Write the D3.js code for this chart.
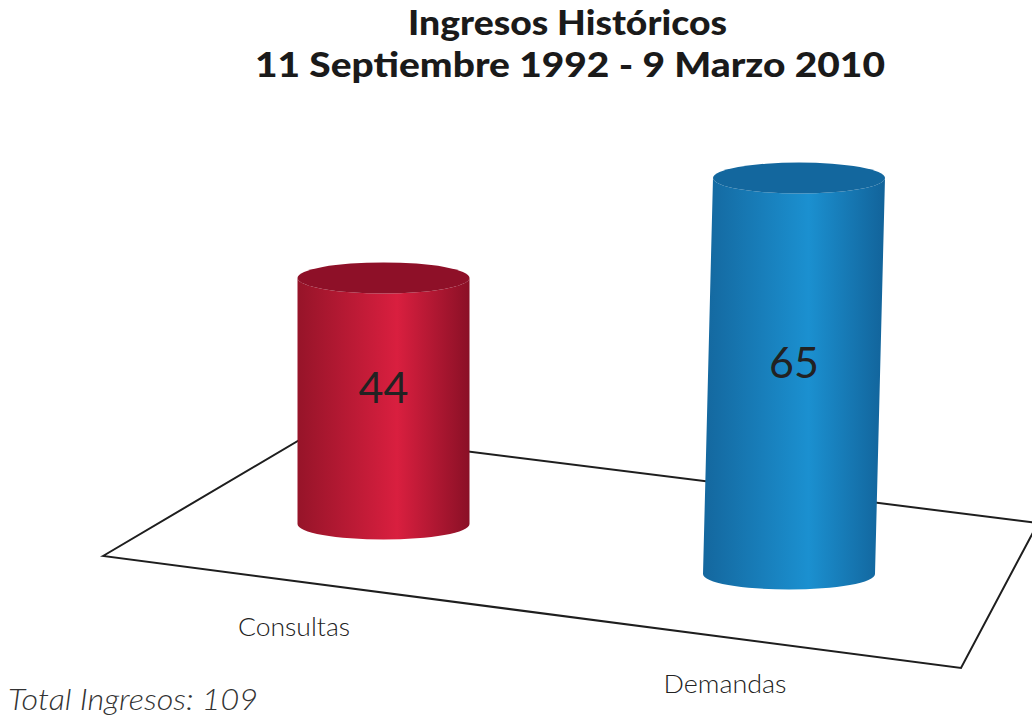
<!DOCTYPE html>
<html>
<head>
<meta charset="utf-8">
<script src="https://cdn.jsdelivr.net/npm/d3@7"></script>
<style>
  html, body { margin: 0; padding: 0; background: #ffffff; }
  svg { display: block; }
</style>
</head>
<body>
<svg id="chart" width="1032" height="725"></svg>
<script>
// ---- data ----
const categories = ["Consultas", "Demandas"];
const values = [44, 65];
const titleLines = ["Ingresos Históricos", "11 Septiembre 1992 - 9 Marzo 2010"];
const totalLabel = "Total Ingresos: 109";

// ---- layout ----
const W = 1032, H = 725;
const svg = d3.select("#chart");
const defs = svg.append("defs");

// scales
const yScale = d3.scaleLinear().domain([0, 65]).range([0, 396]);
const baseX = d3.scalePoint().domain(categories).range([383.5, 789]);
const baseY = d3.scalePoint().domain(categories).range([524, 574]);
const depthK = d3.scalePoint().domain(categories).range([0.918, 1]);
const tilt = d3.scalePoint().domain(categories).range([0, 10]);
const labelX = d3.scalePoint().domain(categories).range([294, 725]);
const labelY = d3.scalePoint().domain(categories).range([636, 693]);
const labelW = [112, 123];

const palettes = [
  { edge: "#961429", mid: "#d91f3f", edge2: "#8a1026", top: "#8e1028" },
  { edge: "#14679e", mid: "#1b90d0", edge2: "#12639a", top: "#13679e" }
];

palettes.forEach((p, i) => {
  const g = defs.append("linearGradient").attr("id", "grad" + i)
    .attr("x1", "0%").attr("x2", "100%").attr("y1", "0%").attr("y2", "0%");
  g.append("stop").attr("offset", "0%").attr("stop-color", p.edge);
  g.append("stop").attr("offset", "58%").attr("stop-color", p.mid);
  g.append("stop").attr("offset", "100%").attr("stop-color", p.edge2);
});

// floor (perspective plane)
const floor = [[103, 556], [313, 432], [1038, 523], [961, 668]];
svg.append("path")
  .attr("d", d3.line()(floor) + "Z")
  .attr("fill", "none")
  .attr("stroke", "#1e1e1e")
  .attr("stroke-width", 2)
  .attr("stroke-linejoin", "miter");

// title
const titleW = [319, 630];
svg.selectAll("text.title").data(titleLines).join("text")
  .attr("class", "title")
  .attr("x", (d, i) => i === 0 ? 567.5 : 570)
  .attr("y", (d, i) => i === 0 ? 35 : 77)
  .attr("text-anchor", "middle")
  .attr("textLength", (d, i) => titleW[i])
  .attr("lengthAdjust", "spacingAndGlyphs")
  .style("font-family", "Lato, 'Liberation Sans', sans-serif")
  .style("font-weight", 900)
  .style("font-size", "35px")
  .style("fill", "#1a1a1a")
  .text(d => d);

// cylinders
const rx = 86, ry = 15.5;
const bars = svg.selectAll("g.bar").data(categories.map((c, i) => ({ c, v: values[i], i })))
  .join("g").attr("class", "bar");

bars.each(function(d) {
  const g = d3.select(this);
  const xb = baseX(d.c), yb = baseY(d.c);
  const h = yScale(d.v) * depthK(d.c);
  const xt = xb + tilt(d.c), yt = yb - h;
  const p = palettes[d.i];
  const body = `M${xt - rx},${yt} L${xb - rx},${yb} A${rx},${ry} 0 0 0 ${xb + rx},${yb} L${xt + rx},${yt} A${rx},${ry} 0 0 1 ${xt - rx},${yt} Z`;
  g.append("path").attr("d", body).attr("fill", `url(#grad${d.i})`);
  g.append("ellipse").attr("cx", xt).attr("cy", yt).attr("rx", rx).attr("ry", ry)
    .attr("fill", p.top);
  g.append("text")
    .attr("x", (xt + xb) / 2)
    .attr("y", (yt + yb) / 2 + 2)
    .attr("text-anchor", "middle")
    .style("font-family", "Lato, 'Open Sans', sans-serif")
    .style("font-weight", 400)
    .style("font-size", "43px")
    .style("fill", "#222")
    .text(d.v);
});

// category labels
svg.selectAll("text.cat").data(categories).join("text")
  .attr("class", "cat")
  .attr("x", d => labelX(d))
  .attr("y", d => labelY(d))
  .attr("text-anchor", "middle")
  .attr("textLength", (d, i) => labelW[i])
  .attr("lengthAdjust", "spacingAndGlyphs")
  .style("font-family", "Lato, 'Open Sans', sans-serif")
  .style("font-weight", 300)
  .style("font-size", "26px")
  .style("fill", "#222")
  .text(d => d);

// total
svg.append("text")
  .attr("x", 8).attr("y", 710)
  .attr("textLength", 250)
  .attr("lengthAdjust", "spacingAndGlyphs")
  .style("font-family", "Lato, 'Open Sans', sans-serif")
  .style("font-style", "italic")
  .style("font-weight", 300)
  .style("font-size", "30px")
  .style("fill", "#333")
  .text(totalLabel);
</script>
</body>
</html>
